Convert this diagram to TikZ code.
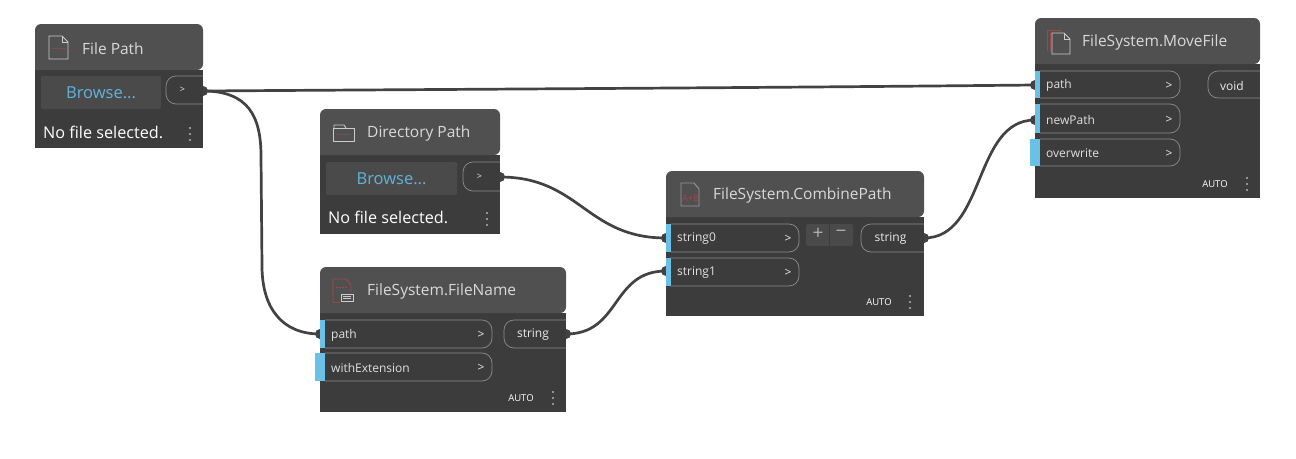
\documentclass[tikz,border=0pt]{standalone}
\usepackage{fontspec}
\setmainfont{Open Sans}
\usetikzlibrary{positioning}
\definecolor{cardbody}{RGB}{60,60,60}
\definecolor{cardhead}{RGB}{80,80,80}
\definecolor{wirecol}{RGB}{66,66,66}
\definecolor{portblue}{RGB}{106,192,231}
\definecolor{browseblue}{RGB}{95,180,220}
\definecolor{btnfill}{RGB}{74,74,74}
\definecolor{pillline}{RGB}{140,140,140}
\definecolor{icored}{RGB}{160,70,70}
\tikzset{
  px/.style={x=1pt,y=-1pt},
  pinnode/.style={circle,fill=wirecol,minimum size=10pt,inner sep=0pt},
  wire/.style={draw=wirecol,line width=2.7pt},
  cardtitle/.style={anchor=west,inner sep=0pt,text=white!85!black,font=\fontsize{15.5}{18}\selectfont},
  portlabel/.style={anchor=west,inner sep=0pt,text=white!88!black,font=\fontsize{12}{14}\selectfont},
  outlabel/.style={inner sep=0pt,text=white!92!black,font=\fontsize{12}{14}\selectfont},
  statuslabel/.style={anchor=west,inner sep=0pt,text=white,font=\fontsize{16.2}{18}\selectfont},
  browselabel/.style={inner sep=0pt,text=browseblue,font=\fontsize{16.5}{18}\selectfont},
  autolabel/.style={inner sep=0pt,text=white,font=\fontsize{9.5}{12}\selectfont},
  pill/.style={draw=pillline,line width=0.7pt,rounded corners=10pt},
  iconline/.style={draw=white!80!black,line width=0.9pt},
  iconred/.style={draw=icored,line width=0.9pt},
}
\begin{document}
\begin{tikzpicture}[px]
\useasboundingbox (0,0) rectangle (1296,458);
% pins and wires go under the cards
\foreach \pinname/\x/\y in {filePathOut/203/91,dirPathOut/500/177,fileNameOut/566/334,combineOut/924/238,
    fileNameIn/320/334,combineInA/666/238,combineInB/666/271,moveInA/1035/85,moveInB/1035/120}
  \node[pinnode] (\pinname) at (\x,\y) {};
\draw[wire] (filePathOut.center) .. controls +(300,-2) and +(-300,3) .. (moveInA.center);
\draw[wire] (filePathOut.center) .. controls +(45,0) and +(0,-40) .. ++(58,65) -- ++(1,110)
  .. controls +(0,42) and +(-38,0) .. (fileNameIn.center);
\draw[wire] (dirPathOut.center) .. controls +(80,0) and +(-80,0) .. (combineInA.center);
\draw[wire] (fileNameOut.center) .. controls +(55,0) and +(-55,0) .. (combineInB.center);
\draw[wire] (combineOut.center) .. controls +(62,0) and +(-62,0) .. (moveInB.center);
% cards
\foreach \cardname/\xa/\ya/\xb/\yh/\yb/\tx/\txt in {
    filePathCard/35/24/203/70/148/82/File Path,
    dirPathCard/320/109/500/155/234/367/Directory Path,
    fileNameCard/320/267/566/313/412/367/FileSystem.FileName,
    combineCard/666/171/924/217/316/713/FileSystem.CombinePath,
    moveCard/1035/18/1260/64/198/1082/FileSystem.MoveFile}{
  \fill[cardbody] (\xa,\yh) -- (\xb,\yh) -- (\xb,\yb) -- (\xa,\yb) -- cycle;
  \fill[cardhead,rounded corners=6pt] (\xa,\yh) -- (\xa,\ya) -- (\xb,\ya) -- (\xb,\yh) [sharp corners] -- cycle;
  \node[cardtitle] (\cardname) at (\tx,{(\ya+\yh)/2+1.5}) {\txt};
}
% browse buttons
\foreach \btnname/\xa/\ya/\xb/\yb/\sx/\sy in {filePathBtn/41/76/161/109/43/132.5,dirPathBtn/326/162/457/195/328/217.5}{
  \fill[btnfill,rounded corners=2pt] (\xa,\ya) rectangle (\xb,\yb);
  \node[browselabel] (\btnname) at ({(\xa+\xb)/2},{(\ya+\yb)/2+0.5}) {Browse...};
  \node[statuslabel] (\btnname Status) at (\sx,\sy) {No file selected.};
}
% small outputs of the two path cards
\foreach \outname/\xa/\ya/\xb/\yb in {filePathPill/166/76/203/104,dirPathPill/463/162/500/191}{
  \draw[pill] (\xb,\ya) -- (\xa,\ya) -- (\xa,\yb) -- (\xb,\yb);
  \node[outlabel,font=\fontsize{9}{10}\selectfont] (\outname) at ({\xa+16.5},{(\ya+\yb)/2}) {>};
}
% input ports
\foreach \portname/\txt/\xa/\ya/\xb/\yb/\bar in {
    inPath/path/325/320/492/348/320,
    inExtension/withExtension/325/353/492/381/315,
    inStringA/string0/671/224/799/252/666,
    inStringB/string1/671/258/799/286/666,
    inMovePath/path/1040/71/1180/98/1035,
    inNewPath/newPath/1040/104/1180/133/1035,
    inOverwrite/overwrite/1040/139/1180/166/1030}{
  \draw[pill] (\xa,\ya) -- (\xb,\ya) -- (\xb,\yb) -- (\xa,\yb);
  \fill[portblue] (\bar,\ya) rectangle (\xa,\yb);
  \node[portlabel] (\portname) at ({\xa+6},{(\ya+\yb)/2+1}) {\txt};
  \node[outlabel] (\portname Arrow) at ({\xb-11},{(\ya+\yb)/2+1}) {>};
}
% output ports
\foreach \outname/\txt/\xa/\ya/\xb/\yb in {
    outFileName/string/504/320/566/348,
    outCombine/string/861/224/924/252,
    outMove/void/1208/71/1260/98}{
  \draw[pill] (\xb,\ya) -- (\xa,\ya) -- (\xa,\yb) -- (\xb,\yb);
  \node[outlabel] (\outname) at ({(\xa+\xb)/2-2},{(\ya+\yb)/2+1}) {\txt};
}
% lacing labels
\node[autolabel] (autoFileName) at (521,398.5) {AUTO};
\node[autolabel] (autoCombine) at (879,302.5) {AUTO};
\node[autolabel] (autoMove) at (1215,184.5) {AUTO};
% menu dots
\foreach \x/\y in {190/134,487/219,553/398,910/302,1247/184}
  \foreach \d in {-6,0,6}
    \fill[white!70!black] (\x,\y+\d) circle (1.2);
% plus and minus
\fill[btnfill,rounded corners=2pt] (806,224) rectangle (853,246);
\draw[cardbody,line width=0.6pt] (829.5,224) -- (829.5,246);
\node[inner sep=0pt,text=white!70!black,font=\fontsize{19}{20}\selectfont] (plusBtn) at (818,234) {+};
\node[inner sep=0pt,text=white!70!black,font=\fontsize{19}{20}\selectfont] (minusBtn) at (841,234) {\symbol{"2212}};
% file icon
\draw[iconline] (49,59) -- (49,36) -- (62,36) -- (68,42) -- (68,59) -- cycle;
\draw[iconline] (62,36) -- (62,42) -- (68,42);
\draw[iconred,dash pattern=on 2pt off 1pt] (52,48) -- (65,48);
% folder icon
\draw[iconline] (333,141) -- (333,128) -- (354,128) -- (354,141) -- cycle;
\draw[iconline] (334,128) -- (334,125) -- (344,125) -- (346,128);
\draw[iconred,dash pattern=on 2pt off 1pt] (337,134) -- (350,134);
% filename icon
\draw[iconred] (333,302) -- (333,279) -- (346,279) -- (351,285) -- (351,294);
\draw[iconred] (333,302) -- (340,302);
\draw[iconred,dash pattern=on 2pt off 1pt] (336,287) -- (347,287);
\fill[cardhead] (340,292) rectangle (353,302);
\draw[iconline] (341,294) rectangle (353,301);
\draw[iconline,line width=0.6pt] (343,296.5) -- (351,296.5) (343,298.5) -- (351,298.5);
% combine icon
\draw[white!60!black,line width=0.9pt] (681,206) -- (681,183) -- (694,183) -- (699,189) -- (699,206) -- cycle;
\node[inner sep=0pt,text=icored,font=\fontsize{9}{10}\selectfont] (combineGlyph) at (690.5,198) {A+B};
% move icon
\draw[iconred] (1047,51) -- (1047,30) -- (1061,30);
\draw[iconred] (1050,51) -- (1050,33);
\draw[iconline] (1052,54) -- (1052,33) -- (1064,33) -- (1070,39) -- (1070,54) -- cycle;
\draw[iconline] (1064,33) -- (1064,39) -- (1070,39);
\end{tikzpicture}
\end{document}
